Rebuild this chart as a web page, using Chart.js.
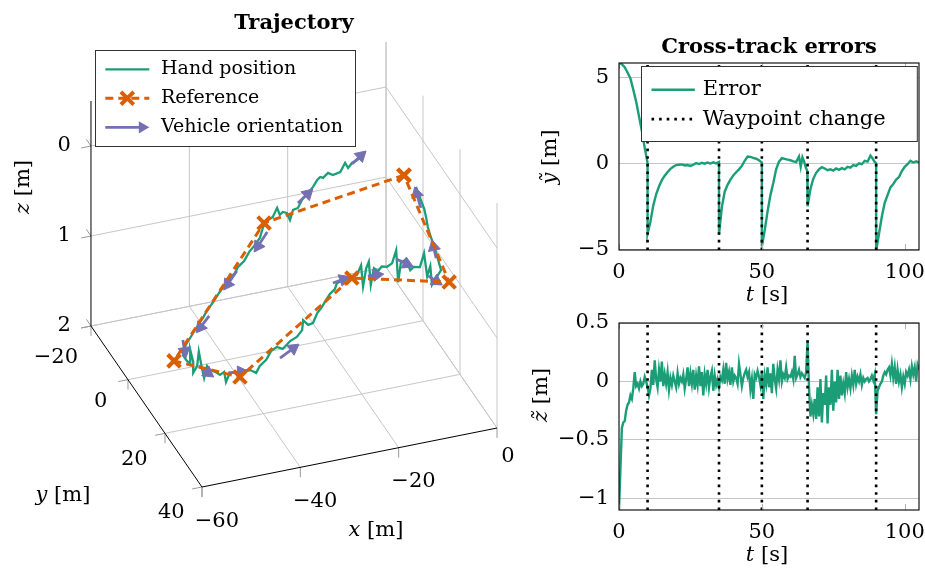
<!DOCTYPE html>
<html>
<head>
<meta charset="utf-8">
<script src="https://cdn.jsdelivr.net/npm/chart.js@4.4.1/dist/chart.umd.min.js"></script>
<style>
  html, body { margin: 0; padding: 0; background: #fff; }
  body { position: relative; width: 925px; height: 569px; overflow: hidden; }
  .panel { position: absolute; }
</style>
</head>
<body>
<div class="panel" style="left:0;top:0;width:530px;height:569px"><canvas id="trajectory"></canvas></div>
<div class="panel" style="left:520px;top:0;width:425px;height:310px"><canvas id="errorY"></canvas></div>
<div class="panel" style="left:520px;top:280px;width:425px;height:289px"><canvas id="errorZ"></canvas></div>
<script>
const green = "#1b9e77", orange = "#d95f02", purple = "#7570b3";
const serif = '"DejaVu Serif", serif';

// ======================
// TRAJECTORY (metres, z points down)
// ======================

const xRange3d = [-60, 0], yRange3d = [-20, 40], zRange3d = [-0.5, 2];
const xTicks3d = [-60, -40, -20, 0];
const yTicks3d = [-20, 0, 20, 40];
const zTicks3d = [0, 1, 2];

// hand position, one line per leg
const handX = [
  -7.1, -8.6, -9.9, -11.2, -11.1, -13.1, -14.8, -15.4, -16.9, -17.3, -18.2, -19.8, -21.5, -23.0, -25.1, -26.2, -28.0, -27.7, -28.3, -29.2, -28.8, -30.7, -31.9, -33.7,
  -34.5, -36.0, -37.0, -38.5, -39.8, -40.5, -41.4, -42.3, -43.4, -44.3, -45.2, -46.2, -47.1, -47.9, -48.3, -49.2, -49.8, -50.4, -51.6, -52.3, -52.7,
  -52.7, -52.5, -52.5, -51.7, -51.7, -51.5, -51.2, -50.9, -50.5, -49.7, -49.7, -49.0, -48.5, -47.4, -47.1, -46.5, -45.1, -43.9, -42.5, -41.8, -40.3,
  -38.4, -36.4, -34.9, -34.1, -31.8, -30.1, -28.3, -26.9, -26.6, -25.5, -23.5, -21.9, -20.3, -18.9, -17.4, -16.3, -14.8, -13.2,
  -11.7, -10.9, -10.5, -9.9, -9.4, -9.0, -8.4, -7.6, -6.9, -5.9, -4.9, -4.1, -3.7, -3.2, -2.2, -1.4, -0.7, 0.5, 1.3, 1.9, 2.5, 2.8, 3.7,
  2.7, 2.3, 1.9, 1.5, 1.2, 1.0, 0.9, 0.4, 0.1, -0.2
];
const handY = [
  -14.1, -12.7, -12.1, -10.7, -12.6, -9.9, -9.4, -10.4, -9.1, -9.6, -8.8, -6.8, -5.1, -3.8, -0.9, -0.6, 2.5, 0.0, -0.6, 0.2, -2.3, 0.4, 1.1, 3.1,
  3.5, 4.3, 4.4, 5.6, 5.7, 6.0, 5.8, 6.0, 6.2, 6.4, 6.7, 7.8, 8.0, 8.3, 7.9, 8.2, 8.1, 8.1, 9.5, 9.8, 10.3,
  12.1, 13.7, 13.7, 13.2, 13.2, 14.8, 14.9, 15.8, 15.9, 15.4, 16.9, 17.9, 19.2, 18.5, 18.7, 19.2, 19.4, 19.4, 19.6, 20.9, 18.9,
  17.3, 14.7, 13.8, 14.8, 12.7, 11.8, 9.9, 6.7, 8.6, 8.3, 5.3, 3.6, 1.6, -0.1, -1.4, -3.2, -3.8, -4.4,
  -4.6, -4.5, -4.5, -4.4, -4.3, -4.3, -4.2, -4.1, -4.0, -3.8, -3.7, -3.6, -3.6, -3.5, -3.3, -3.2, -3.2, -3.0, -2.9, -2.8, -2.7, -2.6, -2.3,
  2.6, 1.6, 1.0, 0.2, -0.6, -1.0, -1.7, -2.2, -3.0, -3.3
];
const handZ = [
  0.5, 0.5, 0.5, 0.5, 0.5, 0.5, 0.5, 0.5, 0.5, 0.5, 0.5, 0.5, 0.5, 0.5, 0.5, 0.5, 0.5, 0.5, 0.5, 0.5, 0.5, 0.5, 0.5, 0.5,
  0.6, 0.65, 0.7, 0.75, 0.8, 0.85, 0.9, 0.95, 1.0, 1.05, 1.1, 1.1, 1.15, 1.2, 1.25, 1.3, 1.35, 1.4, 1.4, 1.45, 1.5,
  1.5, 1.5, 1.34, 1.5, 1.62, 1.5, 1.34, 1.5, 1.61, 1.5, 1.5, 1.5, 1.5, 1.5, 1.61, 1.5, 1.5, 1.5, 1.5, 1.5, 1.5,
  1.5, 1.5, 1.5, 1.5, 1.5, 1.5, 1.5, 1.5, 1.5, 1.5, 1.5, 1.5, 1.5, 1.5, 1.5, 1.5, 1.5, 1.5,
  1.5, 1.40, 1.64, 1.44, 1.37, 1.63, 1.45, 1.49, 1.44, 1.45, 1.42, 1.28, 1.64, 1.43, 1.39, 1.52, 1.49, 1.50, 1.35, 1.61, 1.50, 1.71, 1.62,
  1.39, 1.27, 1.16, 1.08, 0.99, 0.89, 0.82, 0.73, 0.66, 0.61
];

// reference waypoints (loop closes on the first one)
const refX = [-2.1, -33.0, -55.0, -45.2, -13.0, 3.9, -2.1];
const refY = [-4.7, 1.8, 11.6, 21.2, -3.9, 3.8, -4.7];
const refZ = [0.5, 0.5, 1.5, 1.5, 1.5, 1.5, 0.5];

// vehicle orientation arrows: base point and direction
const arrowX = [-10.0, -24.5, -33.0, -39.9, -46.5, -51.4, -51.2, -46.8, -35.7, -17.0, -9.9, -4.4, 0.9, 2.3, 0.2];
const arrowY = [-11.8, -2.5, 3.5, 5.4, 8.0, 6.8, 14.9, 19.1, 17.6, -3.5, -3.5, -2.8, 0.4, 1.0, -1.7];
const arrowZ = [0.5, 0.5, 0.55, 0.85, 1.2, 1.45, 1.5, 1.5, 1.5, 1.5, 1.5, 1.35, 1.5, 1.3, 0.8];
const arrowU = [4.1, 4.4, -4.8, -4.7, -4.4, -1.7, 1.3, 3.8, 5.1, 3.8, 3.1, 2.1, 1.4, 1.5, 1.5];
const arrowV = [-3.3, -3.6, 5.7, 5.4, 4.7, 6.1, 4.6, 0.7, -3.3, -0.9, 0.4, 3.7, 3.9, -6.2, -7.3];
const arrowW = [0, 0, 0, 0, 0, 0, 0, 0, 0, 0, 0, 0, 0, 0, 0];

// ======================
// CROSS-TRACK ERRORS
// ======================

const waypointTimes = [10, 35, 50, 66, 90];

const tY = [
  0, 1, 2, 3, 4, 5, 6, 7, 8, 9, 10, 10,
  11, 12, 13, 14, 15, 16, 17, 18, 19, 20, 21, 22, 23, 24, 25, 26, 27, 28, 29, 30, 31, 32, 33, 34, 35, 35,
  36, 37, 38, 39, 40, 41, 42, 43, 44, 45, 46, 47, 48, 49, 50, 50,
  51, 52, 53, 54, 55, 56, 57, 58, 59, 60, 61, 62, 63, 63.6, 64.2, 64.8, 65.4, 65.9, 66,
  67, 68, 69, 70, 71, 72, 73, 74, 75, 76, 77, 78, 79, 80, 81, 82, 83, 84, 85, 86, 87, 88, 88.7, 89.4, 90, 90,
  91, 92, 93, 94, 95, 96, 97, 98, 99, 100, 101, 102, 103, 104, 105
];
const errY = [
  5.85, 5.78, 5.6, 5.3, 4.95, 4.3, 3.6, 2.75, 1.9, 0.9, 0.02, -4.1,
  -3.4, -2.45, -1.8, -1.35, -0.98, -0.72, -0.5, -0.32, -0.2, -0.1, -0.08, -0.06, -0.12, -0.1, -0.15, -0.08, 0.02, -0.04, 0.03, -0.02, 0.05, -0.01, 0.06, 0.0, 0.08, -4.15,
  -2.55, -1.65, -1.25, -0.95, -0.7, -0.52, -0.35, -0.15, 0.15, 0.4, 0.38, 0.32, 0.27, 0.18, 0.05, -4.85,
  -3.9, -2.8, -1.85, -1.15, -0.35, 0.1, 0.3, 0.26, 0.22, 0.18, 0.12, 0.08, 0.4, -0.2, 0.35, 0.1, -0.25, -0.45, -2.5,
  -1.5, -0.9, -0.55, -0.35, -0.22, -0.3, -0.4, -0.35, -0.42, -0.3, -0.38, -0.28, -0.35, -0.2, -0.25, -0.1, -0.15, 0.0, -0.05, 0.15, 0.1, 0.45, 0.3, 0.1, 0.0, -5.1,
  -4.1, -3.1, -2.3, -1.85, -1.4, -1.2, -0.95, -0.8, -0.45, -0.2, -0.05, 0.15, 0.05, 0.12, 0.05
];

// vertical error, sampled every 0.5 s (one line = 5 s)
const zSampleStep = 0.5;
const errZ = [
  -1.1, -0.75, -0.4, -0.35, -0.34, -0.25, -0.2, -0.18, -0.12, -0.15,
  -0.06, 0.08, -0.04, -0.02, -0.06, 0.0, -0.04, -0.02, 0.04, 0.0,
  -0.05, -0.12, -0.06, 0.1, -0.03, 0.18, 0.02, -0.05, 0.1, 0.0,
  0.17, -0.04, 0.06, -0.02, 0.08, -0.07, 0.03, -0.03, 0.05, 0.0,
  -0.05, 0.07, -0.02, 0.03, 0.0, 0.06, -0.06, 0.02, 0.12, -0.04,
  0.07, -0.02, 0.1, -0.07, 0.05, -0.03, 0.13, -0.04, 0.08, -0.12,
  0.06, -0.02, 0.1, -0.05, 0.04, 0.09, -0.08, 0.05, -0.03, 0.02,
  -0.05, 0.04, 0.01, 0.1, -0.02, 0.16, 0.02, 0.08, -0.03, 0.12,
  0.0, 0.05, 0.03, -0.02, 0.15, 0.06, -0.04, 0.03, 0.07, 0.1,
  0.04, 0.08, -0.07, 0.02, -0.15, 0.06, 0.03, 0.09, 0.04, -0.03,
  0.08, -0.15, 0.05, -0.02, 0.12, -0.05, 0.07, -0.1, 0.15, 0.02,
  -0.06, 0.1, 0.02, 0.18, 0.0, 0.06, 0.03, 0.12, 0.02, 0.05,
  0.04, 0.08, 0.02, 0.22, 0.03, 0.06, 0.1, 0.04, 0.07, 0.05,
  0.03, 0.08, 0.35, -0.05, -0.3, -0.2, -0.28, -0.15, -0.32, -0.05,
  -0.3, 0.02, -0.35, -0.1, -0.2, 0.05, -0.36, -0.05, -0.2, 0.1,
  -0.25, 0.0, -0.18, 0.1, -0.15, 0.05, -0.12, -0.02, -0.1, 0.08,
  -0.05, 0.02, -0.06, 0.05, -0.03, 0.1, -0.02, 0.04, 0.0, 0.06,
  -0.03, 0.03, 0.0, 0.02, 0.03, 0.0, 0.02, 0.05, 0.01, 0.06,
  -0.28, -0.08, -0.05, -0.02, 0.0, 0.05, 0.08, 0.06, 0.1, 0.12,
  0.05, 0.15, 0.03, 0.12, -0.02, 0.1, 0.0, 0.06, -0.05, 0.04,
  -0.02, 0.08, 0.05, 0.1, 0.02, 0.13, 0.06, 0.12, 0.0, 0.14,
  0.1
];

const tRange = [0, 105];
const yErrRange = [-5.05, 5.85];
const zErrRange = [-1.1, 0.5];


// ---- 3-D view: screen position of the origin and screen step per metre on each axis ----
const trajW = 530, trajH = 569;
const viewOrigin = [423, 140.7];
const viewX = [4.917, -0.983];
const viewY = [1.85, 2.683];
const viewZ = [0, 90];

function project(x, y, z) {
    return {
        x: viewOrigin[0] + x * viewX[0] + y * viewY[0] + z * viewZ[0],
        y: viewOrigin[1] + x * viewX[1] + y * viewY[1] + z * viewZ[1]
    };
}

const minus = v => (v < 0 ? "\u2212" : "") + Math.abs(v);

function drawParts(ctx, parts, cx, cy, size, rot) {
    ctx.save();
    ctx.translate(cx, cy);
    if (rot) ctx.rotate(rot);
    ctx.textBaseline = "middle";
    ctx.textAlign = "left";
    ctx.fillStyle = "#000";
    const fontOf = p => (p[1] ? "italic " : "") + size + "px " + serif;
    let w = 0;
    parts.forEach(p => { ctx.font = fontOf(p); w += ctx.measureText(p[0]).width; });
    let x = -w / 2;
    parts.forEach(p => { ctx.font = fontOf(p); ctx.fillText(p[0], x, 0); x += ctx.measureText(p[0]).width; });
    ctx.restore();
}


const headR = 7;
const handPts = handX.map((x, i) => project(x, handY[i], handZ[i]));
const refPts = refX.map((x, i) => project(x, refY[i], refZ[i]));
const shaftPts = [], headPts = [], headRot = [];
arrowX.forEach((x, i) => {
    const a = project(x, arrowY[i], arrowZ[i]);
    const b = project(x + arrowU[i], arrowY[i] + arrowV[i], arrowZ[i] + arrowW[i]);
    const dx = b.x - a.x, dy = b.y - a.y, len = Math.hypot(dx, dy);
    const ux = dx / len, uy = dy / len;
    shaftPts.push(a, { x: b.x - ux * headR * 1.2, y: b.y - uy * headR * 1.2 }, { x: b.x, y: null });
    headPts.push({ x: b.x - ux * headR, y: b.y - uy * headR });
    headRot.push(Math.atan2(dx, -dy) * 180 / Math.PI);
});


// box grid, axes, tick labels, title and legend of the 3-D panel
const box3d = {
    id: "box3d",
    beforeDatasetsDraw(chart) {
        const ctx = chart.ctx, sx = chart.scales.x, sy = chart.scales.y;
        const [x0, x1] = xRange3d, [y0, y1] = yRange3d, [z0, z1] = zRange3d;
        const seg = (a, b) => {
            const p = project(...a), q = project(...b);
            ctx.moveTo(sx.getPixelForValue(p.x), sy.getPixelForValue(p.y));
            ctx.lineTo(sx.getPixelForValue(q.x), sy.getPixelForValue(q.y));
        };
        ctx.save();
        ctx.lineWidth = 1;
        ctx.strokeStyle = "#c6c6c6";
        ctx.beginPath();
        xTicks3d.forEach(x => {
            if (x !== x0) { seg([x, y0, z0], [x, y0, z1]); seg([x, y0, z1], [x, y1, z1]); }
        });
        yTicks3d.forEach(y => {
            seg([x1, y, z0], [x1, y, z1]);
            if (y !== y1) seg([x0, y, z1], [x1, y, z1]);
        });
        zTicks3d.forEach(z => { seg([x0, y0, z], [x1, y0, z]); seg([x1, y0, z], [x1, y1, z]); });
        ctx.stroke();

        ctx.strokeStyle = "#9a9a9a";
        ctx.beginPath();
        zTicks3d.forEach(z => { seg([x0, y0, z], [x0 - 2, y0, z]); seg([x0, y0, z], [x0, y0 - 2.5, z]); });
        yTicks3d.forEach(y => { seg([x0, y, z1], [x0 - 2, y, z1]); seg([x0, y, z1], [x0, y, z1 + 0.11]); });
        xTicks3d.forEach(x => { seg([x, y1, z1], [x, y1, z1 + 0.11]); });
        ctx.stroke();

        ctx.strokeStyle = "#000";
        ctx.beginPath();
        seg([x0, y0, z0], [x0, y0, z1]);
        seg([x0, y0, z1], [x0, y1, z1]);
        seg([x0, y1, z1], [x1, y1, z1]);
        ctx.stroke();
        ctx.restore();
    },
    afterDatasetsDraw(chart) {
        const ctx = chart.ctx, sx = chart.scales.x, sy = chart.scales.y;
        const [x0, x1] = xRange3d, [y0, y1] = yRange3d, [z0, z1] = zRange3d;
        const px = p => ({ x: sx.getPixelForValue(p.x), y: sy.getPixelForValue(p.y) });
        ctx.save();
        ctx.fillStyle = "#000";
        ctx.font = "21px " + serif;
        ctx.textBaseline = "middle";

        ctx.textAlign = "right";
        zTicks3d.forEach(z => {
            const p = px(project(x0, y0, z));
            ctx.fillText(minus(z), p.x - 20, p.y);
        });
        ctx.textAlign = "center";
        yTicks3d.forEach(y => {
            const p = px(project(x0, y, z1)), t = minus(y), w = ctx.measureText(t).width;
            ctx.fillText(t, p.x - 24 - 0.25 * w, p.y + 17 + 0.33 * w);
        });
        xTicks3d.forEach(x => {
            const p = px(project(x, y1, z1)), t = minus(x), w = ctx.measureText(t).width;
            ctx.fillText(t, p.x + 9.4 + 0.123 * w, p.y + 25.4 + 0.2 * w);
        });

        drawParts(ctx, [["z", true], [" [m]", false]], 24, 187, 21, -Math.PI / 2);
        drawParts(ctx, [["y", true], [" [m]", false]], 63, 496, 21, 0);
        drawParts(ctx, [["x", true], [" [m]", false]], 376, 531, 21, 0);

        ctx.font = "bold 21px " + serif;
        ctx.textBaseline = "alphabetic";
        ctx.fillText("Trajectory", 294, 29);

        // legend
        const lx = 95.5, ly = 50.5, lw = 260, lh = 96;
        const rows = [69.3, 98.3, 127.3], s0 = 105.3, s1 = 149.3, tx = 161;
        ctx.fillStyle = "#fff";
        ctx.fillRect(lx, ly, lw, lh);
        ctx.strokeStyle = "#333";
        ctx.lineWidth = 1;
        ctx.strokeRect(lx, ly, lw, lh);

        ctx.strokeStyle = green;
        ctx.lineWidth = 2.3;
        ctx.beginPath(); ctx.moveTo(s0, rows[0]); ctx.lineTo(s1, rows[0]); ctx.stroke();

        ctx.strokeStyle = orange;
        ctx.lineWidth = 3;
        ctx.setLineDash([8, 5]);
        ctx.beginPath(); ctx.moveTo(s0, rows[1]); ctx.lineTo(s1, rows[1]); ctx.stroke();
        ctx.setLineDash([]);
        const mx = (s0 + s1) / 2, r = 6.4;
        ctx.lineWidth = 4;
        ctx.beginPath();
        ctx.moveTo(mx - r, rows[1] - r); ctx.lineTo(mx + r, rows[1] + r);
        ctx.moveTo(mx - r, rows[1] + r); ctx.lineTo(mx + r, rows[1] - r);
        ctx.stroke();

        ctx.strokeStyle = purple;
        ctx.fillStyle = purple;
        ctx.lineWidth = 2.8;
        ctx.beginPath(); ctx.moveTo(s0, rows[2]); ctx.lineTo(s1 - headR * 1.2, rows[2]); ctx.stroke();
        ctx.beginPath();
        ctx.moveTo(s1, rows[2]);
        ctx.lineTo(s1 - 1.5 * headR, rows[2] - 0.87 * headR);
        ctx.lineTo(s1 - 1.5 * headR, rows[2] + 0.87 * headR);
        ctx.closePath(); ctx.fill();

        ctx.fillStyle = "#000";
        ctx.font = "19px " + serif;
        ctx.textAlign = "left";
        ctx.textBaseline = "middle";
        ctx.fillText("Hand position", tx, rows[0]);
        ctx.fillText("Reference", tx, rows[1]);
        ctx.fillText("Vehicle orientation", tx, rows[2]);
        ctx.restore();
    }
};


new Chart(document.getElementById("trajectory"), {
    type: "line",
    data: {
        datasets: [
            {
                label: "Reference",
                data: refPts,
                borderColor: orange,
                borderWidth: 3,
                borderDash: [8, 5],
                pointStyle: "crossRot",
                pointRadius: 9,
                pointBorderWidth: 4,
                pointBorderColor: orange,
                order: 1
            },
            {
                label: "Vehicle orientation",
                data: headPts,
                showLine: false,
                pointStyle: "triangle",
                pointRadius: headR,
                pointRotation: headRot,
                pointBackgroundColor: purple,
                pointBorderColor: purple,
                pointBorderWidth: 1,
                order: 2
            },
            {
                label: "shafts",
                data: shaftPts,
                borderColor: purple,
                borderWidth: 2.8,
                pointRadius: 0,
                order: 2
            },
            {
                label: "Hand position",
                data: handPts,
                borderColor: green,
                borderWidth: 2.3,
                pointRadius: 0,
                order: 3
            }
        ]
    },
    options: {
        animation: false,
        responsive: true,
        maintainAspectRatio: false,
        events: [],
        layout: { padding: 0, autoPadding: false },
        plugins: { legend: { display: false }, tooltip: { enabled: false } },
        scales: {
            x: { type: "linear", min: 0, max: trajW, display: false },
            y: { type: "linear", min: 0, max: trajH, reverse: true, display: false }
        }
    },
    plugins: [box3d]
});


// frame, labels and legend of the two error panels
const errorPanel = {
    id: "errorPanel",
    afterDraw(chart, args, o) {
        const ctx = chart.ctx, a = chart.chartArea, xs = chart.scales.x;
        ctx.save();
        ctx.strokeStyle = "#b0b0b0";
        ctx.lineWidth = 1;
        ctx.beginPath();
        xs.ticks.forEach(tk => {
            const x = Math.round(xs.getPixelForValue(tk.value)) + 0.5;
            ctx.moveTo(x, a.bottom); ctx.lineTo(x, a.bottom - 6);
            ctx.moveTo(x, a.top); ctx.lineTo(x, a.top + 6);
        });
        ctx.stroke();

        ctx.strokeStyle = "#000";
        ctx.lineWidth = 1.1;
        ctx.strokeRect(a.left, a.top, a.right - a.left, a.bottom - a.top);

        if (o.title) {
            ctx.fillStyle = "#000";
            ctx.font = "bold 21px " + serif;
            ctx.textAlign = "center";
            ctx.textBaseline = "alphabetic";
            ctx.fillText(o.title, (a.left + a.right) / 2, a.top - 10);
        }
        drawParts(ctx, o.yLabel, o.yLabelAt[0], o.yLabelAt[1], 21, -Math.PI / 2);
        drawParts(ctx, [["t", true], [" [s]", false]], (a.left + a.right) / 2 - 2, a.bottom + 46, 21, 0);

        if (o.legend) {
            const [lx, ly, lw, lh] = o.legend;
            ctx.fillStyle = "#fff";
            ctx.fillRect(lx, ly, lw, lh);
            ctx.strokeStyle = "#333";
            ctx.lineWidth = 1;
            ctx.strokeRect(lx, ly, lw, lh);
            const rows = [ly + 23.3, ly + 52.6];
            const shown = [chart.data.datasets[1], chart.data.datasets[0]];
            shown.forEach((ds, i) => {
                ctx.strokeStyle = ds.borderColor;
                ctx.lineWidth = ds.borderWidth;
                ctx.setLineDash(ds.borderDash || []);
                ctx.beginPath();
                ctx.moveTo(lx + 10, rows[i]); ctx.lineTo(lx + 53.3, rows[i]);
                ctx.stroke();
                ctx.setLineDash([]);
                ctx.fillStyle = "#000";
                ctx.font = "21px " + serif;
                ctx.textAlign = "left";
                ctx.textBaseline = "middle";
                ctx.fillText(ds.label, lx + 61.3, rows[i]);
            });
        }
        ctx.restore();
    }
};

function waypointLine(range) {
    return waypointTimes.flatMap(t => [{ x: t, y: range[0] }, { x: t, y: range[1] }, { x: t, y: null }]);
}

function errorOptions(range, step, padTop, xHeight, panel) {
    return {
        animation: false,
        responsive: true,
        maintainAspectRatio: false,
        events: [],
        layout: { padding: { top: padTop, right: 26, left: 0, bottom: 0 }, autoPadding: false },
        plugins: { legend: { display: false }, tooltip: { enabled: false }, errorPanel: panel },
        scales: {
            x: {
                type: "linear", min: tRange[0], max: tRange[1],
                grid: { display: false }, border: { display: false },
                ticks: {
                    stepSize: 50, includeBounds: false, maxRotation: 0, padding: 2,
                    color: "#000", font: { family: serif, size: 21 }, callback: minus
                },
                afterFit: s => { s.height = xHeight; }
            },
            y: {
                type: "linear", min: range[0], max: range[1],
                grid: { color: "#c6c6c6", drawTicks: false }, border: { display: false },
                ticks: {
                    stepSize: step, includeBounds: false, padding: 10,
                    color: "#000", font: { family: serif, size: 21 }, callback: minus
                },
                afterFit: s => { s.width = 99; }
            }
        }
    };
}

new Chart(document.getElementById("errorY"), {
    type: "line",
    data: {
        datasets: [
            {
                label: "Waypoint change",
                data: waypointLine(yErrRange),
                borderColor: "#000",
                borderWidth: 2.6,
                borderDash: [2.6, 5],
                pointRadius: 0,
                order: 1
            },
            {
                label: "Error",
                data: tY.map((t, i) => ({ x: t, y: errY[i] })),
                borderColor: green,
                borderWidth: 2.4,
                pointRadius: 0,
                order: 2
            }
        ]
    },
    options: errorOptions(yErrRange, 5, 63, 60, {
        title: "Cross-track errors",
        yLabel: [["\u1EF9", true], [" [m]", false]],
        yLabelAt: [31, 157],
        legend: [121.5, 66.5, 275.8, 75]
    }),
    plugins: [errorPanel]
});

new Chart(document.getElementById("errorZ"), {
    type: "line",
    data: {
        datasets: [
            {
                label: "Waypoint change",
                data: waypointLine(zErrRange),
                borderColor: "#000",
                borderWidth: 2.6,
                borderDash: [2.6, 5],
                pointRadius: 0,
                order: 1
            },
            {
                label: "Error",
                data: errZ.map((v, i) => ({ x: i * zSampleStep, y: v })),
                borderColor: green,
                borderWidth: 2.4,
                pointRadius: 0,
                order: 2
            }
        ]
    },
    options: errorOptions(zErrRange, 0.5, 43, 59, {
        yLabel: [["z\u0303", true], [" [m]", false]],
        yLabelAt: [22, 115]
    }),
    plugins: [errorPanel]
});
</script>
</body>
</html>
